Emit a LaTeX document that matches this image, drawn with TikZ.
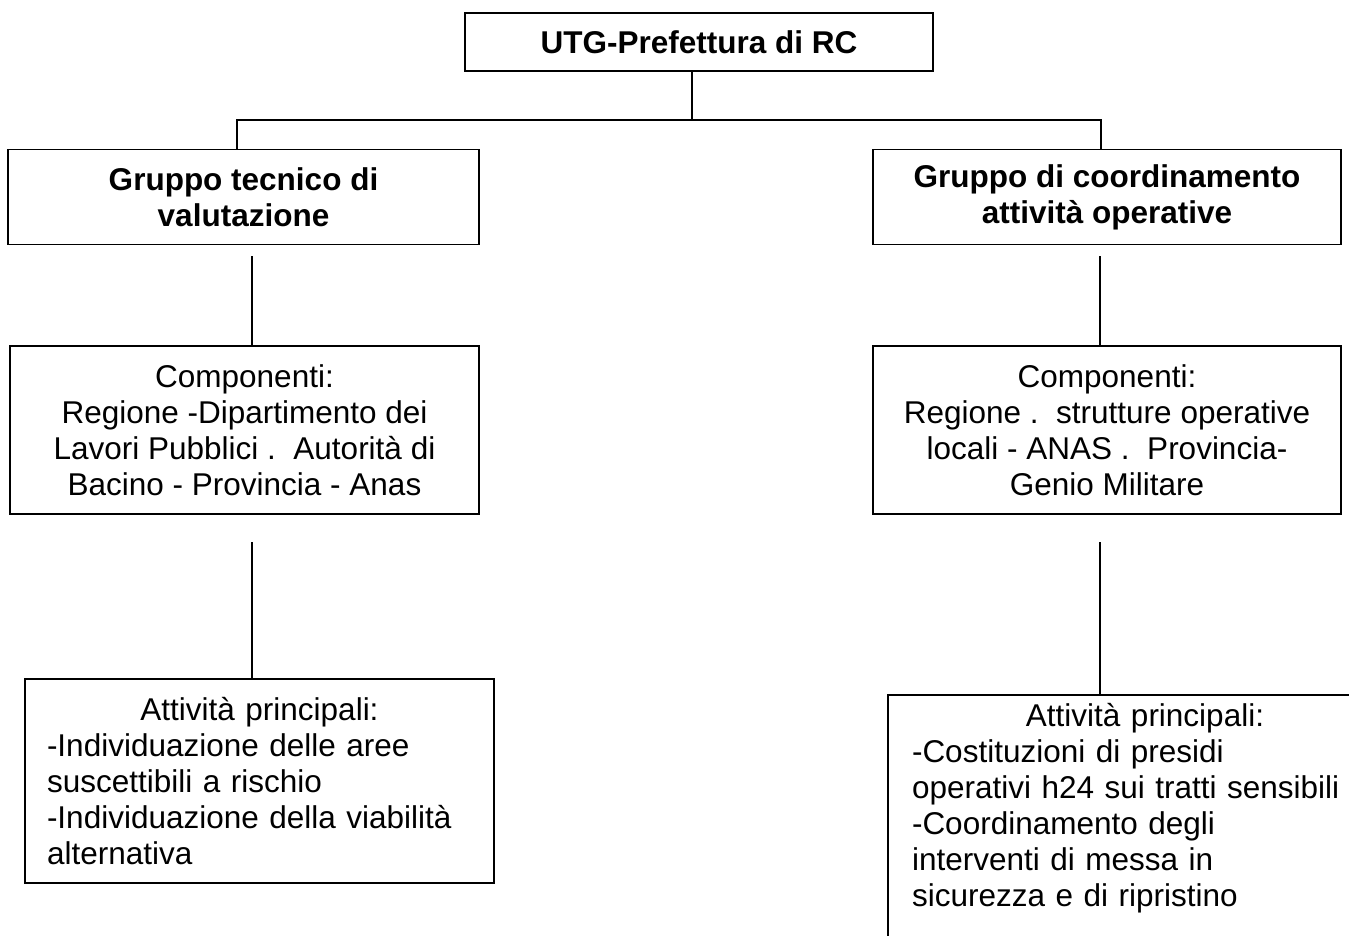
\documentclass[tikz,border=0pt]{standalone}
\usepackage{fontspec}
\setmainfont{Liberation Sans}
\begin{document}
\begin{tikzpicture}[x=1pt,y=-1pt,
  box/.style={draw=black,line width=1.5pt,rectangle,inner sep=0pt,align=center},
  txt/.style={font=\fontsize{31.5}{36}\selectfont},
  btxt/.style={font=\fontsize{31.5}{36}\selectfont\bfseries},
  conn/.style={draw=black,line width=1.5pt}]
\clip (0,0) rectangle (1349,935);
\fill[white] (0,0) rectangle (1349,935);
% boxes
\node (top) [box,btxt,minimum width=468,minimum height=58] at (699,42) {UTG-Prefettura di RC};
\node (g1) [box,btxt,minimum width=471,minimum height=95] at (243.5,197) {Gruppo tecnico di\\valutazione};
\node (g2) [box,btxt,minimum width=468,minimum height=95] at (1107,197) {Gruppo di coordinamento\\attività operative};
\node (c1) [box,txt,minimum width=469,minimum height=168] at (244.5,430) {Componenti:\\Regione -Dipartimento dei\\Lavori Pubblici .~~Autorità di\\Bacino - Provincia - Anas};
\node (c2) [box,txt,minimum width=468,minimum height=168] at (1107,430) {Componenti:\\Regione .~~strutture operative\\locali - ANAS .~~Provincia-\\Genio Militare};
\node (a1) [box,txt,minimum width=469,minimum height=204,text width=425,inner xsep=22pt,align=left] at (259.5,781) {\makebox[425pt]{Attività principali:}\\-Individuazione delle aree\\suscettibili a rischio\\-Individuazione della viabilità\\alternativa};
\node (a2) [box,minimum width=514,minimum height=320,anchor=north] at (1145,694) {};
\node (a2t) [txt,anchor=north,inner sep=0pt,text width=466,align=left] at (1145,703) {\makebox[466pt]{Attività principali:}\\-Costituzioni di presidi\\operativi h24 sui tratti sensibili\\-Coordinamento degli\\interventi di messa in\\sicurezza e di ripristino};
% connectors
\coordinate (j) at (692,120);
\coordinate (jl) at (237,120);
\coordinate (jr) at (1101,120);
\draw[conn] (top.south -| j) -- (j);
\draw[conn] (g1.north -| jl) -- (jl) -- (jr) -- (g2.north -| jr);
\coordinate (l1) at (252,256);
\coordinate (l2) at (252,542);
\coordinate (r1) at (1100,256);
\coordinate (r2) at (1100,542);
\draw[conn] (l1) -- (c1.north -| l1);
\draw[conn] (l2) -- (a1.north -| l2);
\draw[conn] (r1) -- (c2.north -| r1);
\draw[conn] (r2) -- (a2.north -| r2);
\end{tikzpicture}
\end{document}
